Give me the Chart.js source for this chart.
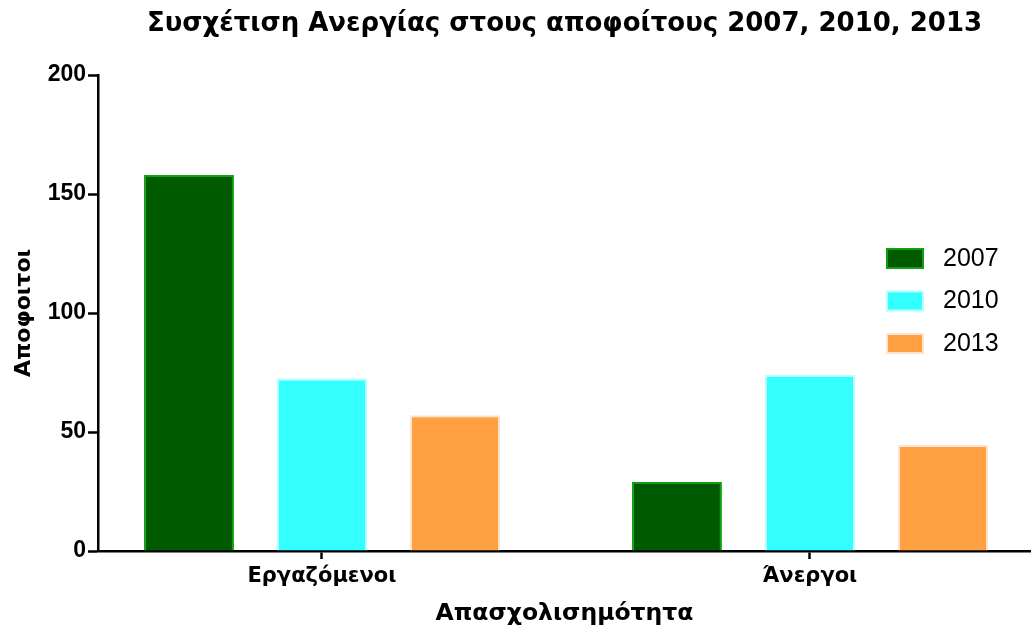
<!DOCTYPE html>
<html>
<head>
<meta charset="utf-8">
<script src="https://cdn.jsdelivr.net/npm/chart.js@4.4.1/dist/chart.umd.min.js"></script>
<style>
  html, body { margin: 0; padding: 0; background: #fff; }
  #wrap { width: 1031px; height: 630px; }
</style>
</head>
<body>
<div id="wrap"><canvas id="unemploymentChart"></canvas></div>
<script>
// --- Data ---
const categories = ['Εργαζόμενοι', 'Άνεργοι'];
const years = ['2007', '2010', '2013'];
const values2007 = [158, 29];
const values2010 = [72.5, 74];
const values2013 = [57, 44.5];
const yTicks = [0, 50, 100, 150, 200];

// --- Colors ---
const fillColors = ['#005a00', '#33ffff', '#ffa042'];
const edgeColors = ['#12a012', '#b4ffff', '#fde4d0'];
const FONT = 'Liberation Sans, Arial, sans-serif';
const WIDE_FONT = 'DejaVu Sans, Verdana, sans-serif';

const seriesValues = [values2007, values2010, values2013];

// category index -> {x, y} so bars sit on a numeric axis
const toPoints = vals => vals.map((v, i) => ({ x: i, y: v }));

// legend drawn inside the plot, to the right like the original
const sideLegend = {
    id: 'sideLegend',
    afterDraw(chart) {
        const ctx = chart.ctx;
        ctx.save();
        chart.data.datasets.forEach((ds, i) => {
            const y = 249 + i * 42.5;
            ctx.fillStyle = ds.backgroundColor;
            ctx.fillRect(887, y, 36, 19);
            ctx.strokeStyle = ds.borderColor;
            ctx.lineWidth = 2;
            ctx.strokeRect(887, y, 36, 19);
            ctx.fillStyle = '#000';
            ctx.font = '25px ' + FONT;
            ctx.textBaseline = 'middle';
            ctx.textAlign = 'left';
            ctx.fillText(ds.label, 943, y + 10);
        });
        ctx.restore();
    }
};

new Chart(document.getElementById('unemploymentChart'), {
    type: 'bar',
    data: {
        datasets: years.map((yr, i) => ({
            label: yr,
            data: toPoints(seriesValues[i]),
            backgroundColor: fillColors[i],
            borderColor: edgeColors[i],
            borderWidth: 2,
            categoryPercentage: 0.818,
            barPercentage: 0.677
        }))
    },
    options: {
        responsive: true,
        maintainAspectRatio: false,
        animation: false,
        layout: { padding: 0 },
        plugins: {
            legend: { display: false },
            tooltip: { enabled: false },
            title: {
                display: true,
                fullSize: false,
                text: 'Συσχέτιση Ανεργίας στους αποφοίτους 2007, 2010, 2013',
                color: '#000',
                font: { family: WIDE_FONT, size: 26, weight: 'bold' },
                padding: { top: 9, bottom: 34.8 }
            }
        },
        scales: {
            x: {
                type: 'linear',
                offset: false,
                min: -0.459,
                max: 1.453,
                afterBuildTicks: scale => { scale.ticks = categories.map((c, i) => ({ value: i })); },
                afterFit: scale => { scale.height = 79; },
                ticks: {
                    callback: v => categories[v],
                    color: '#000',
                    font: { family: WIDE_FONT, size: 21, weight: 'bold' },
                    padding: 5,
                    maxRotation: 0
                },
                grid: { offset: false, drawOnChartArea: false, tickLength: 8, tickColor: '#000', tickWidth: 2.5 },
                border: { color: '#000', width: 2.5 },
                title: {
                    display: true,
                    text: 'Απασχολισημότητα',
                    color: '#000',
                    font: { family: WIDE_FONT, size: 23.5, weight: 'bold' },
                    padding: { top: 0, bottom: 2 }
                }
            },
            y: {
                min: 0,
                max: 200,
                afterBuildTicks: scale => { scale.ticks = yTicks.map(v => ({ value: v })); },
                afterFit: scale => { scale.width = 98; },
                ticks: {
                    color: '#000',
                    font: { family: FONT, size: 23, weight: 'bold' },
                    padding: 2
                },
                grid: { drawOnChartArea: false, tickLength: 10, tickColor: '#000', tickWidth: 2.5 },
                border: { color: '#000', width: 2.5 },
                title: {
                    display: true,
                    text: 'Αποφοιτοι',
                    color: '#000',
                    font: { family: WIDE_FONT, size: 22, weight: 'bold' },
                    padding: { top: 11, bottom: 0 }
                }
            }
        }
    },
    plugins: [sideLegend]
});
</script>
</body>
</html>
